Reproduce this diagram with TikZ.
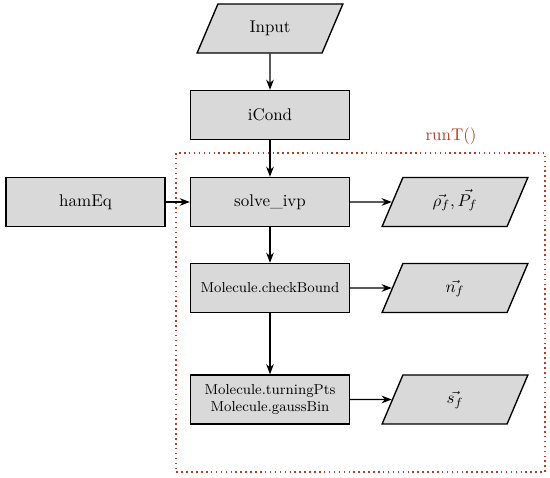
\documentclass[tikz,border=0pt]{standalone}
\usepackage{tikz}
\usepackage{xcolor}
\usetikzlibrary{arrows.meta,shapes.geometric,positioning}
\definecolor{boxgray}{RGB}{217,217,217}
\definecolor{runred}{RGB}{178,62,40}

\begin{document}
\begin{tikzpicture}[
  x=0.59pt, y=-0.59pt,
  every node/.style={font=\normalsize},
  procbox/.style={rectangle, draw, fill=boxgray, line width=0.8pt,
    minimum width=93.8pt, minimum height=28.9pt, align=center},
  iobox/.style={trapezium, trapezium left angle=67, trapezium right angle=113,
    trapezium stretches body=true,
    draw, fill=boxgray, line width=0.8pt, minimum width=86pt,
    text height=8pt, text depth=3pt, inner ysep=8.95pt, inner xsep=2pt},
  flow/.style={-{Stealth[length=6pt,width=4.5pt]}, thick},
  runbox/.style={runred, dotted, line width=0.9pt},
  small85/.style={font=\fontsize{8.5}{10.5}\selectfont},
]
\useasboundingbox (0,0) rectangle (550,478);

%% ---- main column ----
\node[iobox]   (input) at (270,28.5) {Input};
\node[procbox] (icond) at (270,115)  {iCond};
\node[procbox] (solve) at (270,202)  {solve\_ivp};
\node[procbox, small85] (check) at (270,288) {Molecule.checkBound};
\node[procbox, small85] (turn)  at (270,399.5)
  {Molecule.turningPts\\Molecule.gaussBin};

%% ---- left input ----
\node[procbox] (hameq) at (85.5,202) {hamEq};

%% ---- outputs ----
\node[iobox] (rho) at (455,202)   {$\vec{\rho_f}, \vec{P_f}$};
\node[iobox] (nf)  at (455,288)   {$\vec{n_f}$};
\node[iobox] (sf)  at (455,399.5) {$\vec{s_f}$};

%% ---- runT() frame ----
\draw[runbox] (176,153) rectangle (545,472);
\node[runred] (runlabel) at (451,136) {runT()};

%% ---- connectors ----
\draw[flow] (input) -- (icond);
\draw[flow] (icond) -- (solve);
\draw[flow] (solve) -- (check);
\draw[flow] (check) -- (turn);
\draw[flow] (hameq) -- (solve);
\draw[flow] (solve.east) -- (rho.west);
\draw[flow] (check.east) -- (nf.west);
\draw[flow] (turn.east) -- (sf.west);

\end{tikzpicture}
\end{document}
